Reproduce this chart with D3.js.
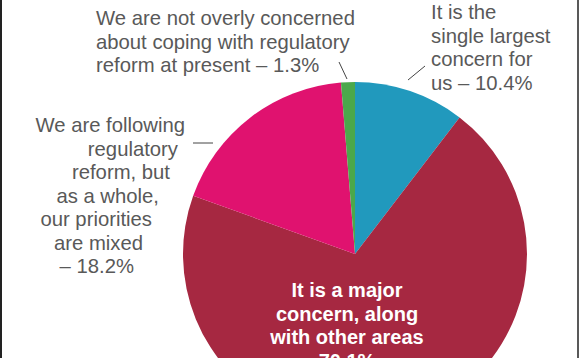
<!DOCTYPE html>
<html>
<head>
<meta charset="utf-8">
<script src="https://cdn.jsdelivr.net/npm/d3@7"></script>
<style>
  html, body { margin: 0; padding: 0; background: #ffffff; }
  svg { display: block; }
  text { font-family: "Liberation Sans", Arial, Helvetica, sans-serif; }
</style>
</head>
<body>
<svg id="chart" width="580" height="358"></svg>
<script>
const categories = [
  "It is the single largest concern for us",
  "It is a major concern, along with other areas",
  "We are following regulatory reform, but as a whole, our priorities are mixed",
  "We are not overly concerned about coping with regulatory reform at present"
];
const values = [10.4, 70.1, 18.2, 1.3];
const colors = ["#2199bd", "#a62841", "#e0126f", "#4ba84b"];
const labelLines = [
  ["It is the", "single largest", "concern for", "us \u2013 10.4%"],
  ["It is a major", "concern, along", "with other areas", "70.1%"],
  ["We are following", "regulatory", "reform, but", "as a whole,", "our priorities", "are mixed", "\u2013 18.2%"],
  ["We are not overly concerned", "about coping with regulatory", "reform at present \u2013 1.3%"]
];

const svg = d3.select("#chart");
const W = 580, H = 358;
svg.append("rect").attr("width", W).attr("height", H).attr("fill", "#ffffff");

const cx = 355, cy = 254, R = 172;
const pie = d3.pie().sort(null).value(d => d)(values);
const arc = d3.arc().innerRadius(0).outerRadius(R);

const g = svg.append("g").attr("transform", `translate(${cx},${cy})`);
g.selectAll("path").data(pie).enter().append("path")
  .attr("d", arc)
  .attr("fill", (d, i) => colors[i]);

const lh = 23.5;
function block(lines, x, y0, anchor, opts) {
  const t = svg.append("text")
    .attr("text-anchor", anchor)
    .attr("font-size", opts.size)
    .attr("font-weight", opts.weight || "normal")
    .attr("fill", opts.fill);
  lines.forEach((s, i) => {
    const xi = Array.isArray(x) ? x[i] : x;
    t.append("tspan").attr("x", xi).attr("y", y0 + i * lh).text(s);
  });
}

const grey = "#595959";
// top label (1.3%)
block(labelLines[3], 96, 25, "start", {size: "20.3px", fill: grey});
// right label (10.4%)
block(labelLines[0], 431, 19, "start", {size: "20.3px", fill: grey});
// left label (18.2%) right-aligned along curve
block(labelLines[2], [185, 178, 170, 159, 152, 143, 134], 132, "end", {size: "20.3px", fill: grey});
// inner label (70.1%) - last line runs off the bottom edge as in the original
block(labelLines[1], 347, 297, "middle", {size: "20px", weight: "bold", fill: "#ffffff"});

// leader lines
const leaders = [[339, 62, 347, 79], [408, 80, 425, 66], [193, 143, 213, 143]];
svg.selectAll("line.leader").data(leaders).enter().append("line")
  .attr("class", "leader")
  .attr("x1", d => d[0]).attr("y1", d => d[1])
  .attr("x2", d => d[2]).attr("y2", d => d[3])
  .attr("stroke", "#444").attr("stroke-width", 1);

// frame lines left/right
svg.append("line").attr("x1", 1).attr("x2", 1).attr("y1", 0).attr("y2", H)
  .attr("stroke", "#222").attr("stroke-width", 2);
svg.append("line").attr("x1", 578).attr("x2", 578).attr("y1", 0).attr("y2", H)
  .attr("stroke", "#222").attr("stroke-width", 1.5);
</script>
</body>
</html>
